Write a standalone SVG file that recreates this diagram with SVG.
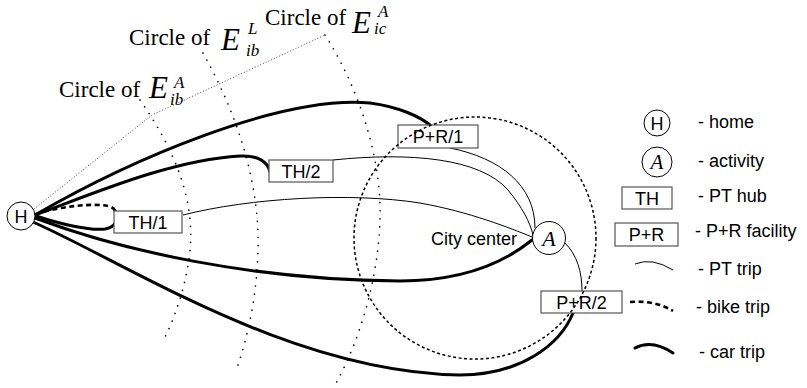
<svg xmlns="http://www.w3.org/2000/svg" width="807" height="388" viewBox="0 0 807 388">
<style>
.bg{fill:#fff}
.lbl{font-family:"Liberation Sans",Arial,sans-serif;font-size:18px;fill:#000}
.mid{text-anchor:middle}
.ser{font-family:"Liberation Serif","Times New Roman",serif;fill:#000}
.circ{font-size:23px}
.E{font-size:31px;font-style:italic}
.sx{font-size:17px;font-style:italic}
.node{fill:#fff;stroke:#000;stroke-width:1}
.box{fill:#fff;stroke:#555;stroke-width:1.2}
.car{fill:none;stroke:#000;stroke-width:3;stroke-linecap:round}
.pt{fill:none;stroke:#000;stroke-width:1}
.bike{fill:none;stroke:#000;stroke-width:2.6;stroke-dasharray:5 3.5}
.ring{fill:none;stroke:#000;stroke-width:1.5;stroke-dasharray:3 2.5}
.arc{fill:none;stroke:#000;stroke-width:1.6;stroke-dasharray:0.1 8;stroke-linecap:round}
.ray{fill:none;stroke:#333;stroke-width:0.9;stroke-dasharray:1 2}
</style>
<rect class="bg" x="0" y="0" width="807" height="388"/>
<g id="circle-labels">
<text class="ser circ" x="59" y="97">Circle of</text>
<text class="ser E" x="149" y="98">E</text>
<text class="ser sx" x="174" y="88">A</text>
<text class="ser sx" x="170" y="105">ib</text>
<text class="ser circ" x="129" y="45">Circle of</text>
<text class="ser E" x="221" y="50">E</text>
<text class="ser sx" x="248" y="34">L</text>
<text class="ser sx" x="246" y="56">ib</text>
<text class="ser circ" x="265" y="25">Circle of</text>
<text class="ser E" x="352" y="33">E</text>
<text class="ser sx" x="378" y="17">A</text>
<text class="ser sx" x="374" y="34">ic</text>
</g>
<g id="connectors">
<path class="arc" d="M140,100 C175,150 195,200 190,250 C187,280 178,310 165,337"/>
<path class="arc" d="M203,53 C235,110 260,180 258,250 C257,290 250,330 237,368"/>
<path class="arc" d="M325,35 C360,90 382,160 380,220 C378,280 360,340 335,385"/>
<path class="ray" d="M34,209 L152,115 L325,35"/>
<path class="car" d="M35,215 C130,160 280,95 370,103 C400,107 420,117 430,125"/>
<path class="car" d="M35,215 C90,195 170,160 240,156 C258,155 268,162 270,172"/>
<path class="car" d="M36,216 C60,224 90,231 105,229 C116,227 118,220 115,211"/>
<path class="bike" d="M36,214 C60,206 95,203 108,206 C116,208 117,213 116,218"/>
<path class="car" d="M35,218 C120,250 250,280 400,281 C465,281 505,262 532,240"/>
<path class="car" d="M33,222 C130,265 290,372 460,375 C520,375 560,345 573,313"/>
<path class="pt" d="M183,215 C250,198 350,192 420,203 C470,212 510,228 532,237"/>
<path class="pt" d="M333,160 C410,152 480,158 508,190 C522,207 530,222 533,235"/>
<path class="pt" d="M450,148 C500,158 535,185 535,228"/>
<path class="pt" d="M565,243 C577,255 582,272 582,291"/>
</g>
<g id="node-H"><circle class="node" cx="21" cy="216" r="14"/><text class="lbl mid" x="21" y="222.5">H</text></g>
<g id="node-TH1"><rect class="box" x="114" y="211" width="68" height="22"/><text class="lbl mid" x="148" y="228.5">TH/1</text></g>
<g id="node-TH2"><rect class="box" x="269" y="160" width="64" height="22"/><text class="lbl mid" x="301" y="177.5">TH/2</text></g>
<g id="node-PR1"><rect class="box" x="398" y="125" width="80" height="23"/><text class="lbl mid" x="438" y="143">P+R/1</text></g>
<g id="node-PR2"><rect class="box" x="541" y="291" width="81" height="22"/><text class="lbl mid" x="581.5" y="308.5">P+R/2</text></g>
<g id="node-A"><circle class="node" cx="549" cy="238" r="16.5"/><text class="ser mid" x="549" y="245.5" font-size="22" font-style="italic">A</text></g>
<g id="city-ring"><circle class="ring" cx="475" cy="238" r="121"/></g>
<text class="lbl" x="431" y="245">City center</text>
<g id="legend">
<circle class="node" cx="657" cy="123" r="13"/><text class="lbl mid" x="657" y="129.5">H</text>
<text class="lbl" x="698" y="128">- home</text>
<circle class="node" cx="657" cy="162" r="15"/><text class="ser mid" x="657" y="169" font-size="21" font-style="italic">A</text>
<text class="lbl" x="698" y="167">- activity</text>
<rect class="box" x="622" y="187" width="50" height="22"/><text class="lbl mid" x="647" y="204.5">TH</text>
<text class="lbl" x="698" y="202">- PT hub</text>
<rect class="box" x="615" y="223" width="63" height="23"/><text class="lbl mid" x="646.5" y="241">P+R</text>
<text class="lbl" x="695" y="237">- P+R facility</text>
<path class="pt" d="M635,264 Q652,257 673,270"/>
<text class="lbl" x="698" y="275">- PT trip</text>
<path class="bike" d="M630,302 Q655,300 673,311"/>
<text class="lbl" x="696" y="313">- bike trip</text>
<path class="car" d="M635,348 Q652,339 673,353"/>
<text class="lbl" x="699" y="358">- car trip</text>
</g>
</svg>
